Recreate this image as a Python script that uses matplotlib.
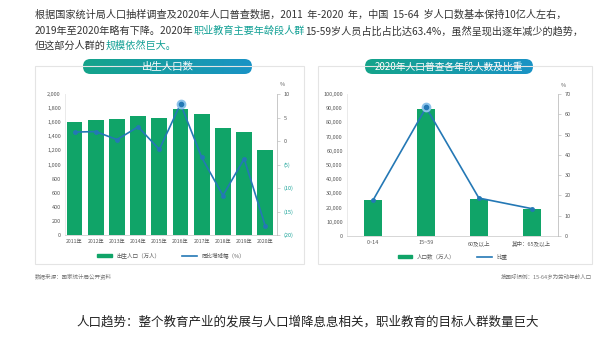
import numpy as np
import matplotlib.pyplot as plt
from matplotlib.patches import FancyBboxPatch, Rectangle
from matplotlib.lines import Line2D
from matplotlib.colors import LinearSegmentedColormap
from matplotlib.ticker import FuncFormatter

plt.rcParams['font.family'] = ['Noto Sans CJK SC', 'DejaVu Sans']

# data - left chart: births 2011-2020
years = ['2011年', '2012年', '2013年', '2014年', '2015年', '2016年', '2017年', '2018年', '2019年', '2020年']
births = [1604, 1635, 1640, 1687, 1655, 1786, 1723, 1523, 1465, 1200]
births_yoy = [1.9, 2.0, 0.3, 3.0, -1.8, 7.9, -3.5, -11.6, -3.8, -18.1]

# data - right chart: 2020 census age groups
age_groups = ['0~14', '15~59', '60及以上', '其中：65及以上']
age_pop = [25338, 89438, 26402, 19064]
age_share = [17.95, 63.35, 18.70, 13.50]

W, H = 611, 347
GREEN = '#10a468'
BLUE = '#2478b5'
TEAL = '#12a095'
GREY = '#595959'
TICK = 4.0

fig = plt.figure(figsize=(W / 100, H / 100), dpi=100)


def px_axes(x0, y0, x1, y1, **kw):
    # pixel box (top-left origin) -> fig axes
    return fig.add_axes([x0 / W, 1 - y1 / H, (x1 - x0) / W, (y1 - y0) / H], **kw)


def panel(x0, y0, x1, y1):
    fig.patches.append(Rectangle((x0 / W, 1 - y1 / H), (x1 - x0) / W, (y1 - y0) / H,
                                 transform=fig.transFigure, fill=False,
                                 edgecolor='#e4e4e4', lw=0.8))


def pill(x0, y0, x1, y1, text, size):
    ax = px_axes(x0, y0, x1, y1)
    ax.set_axis_off()
    grad = np.linspace(0, 1, 256).reshape(1, -1)
    cmap = LinearSegmentedColormap.from_list('pill', ['#14a48a', '#1a93c6'])
    im = ax.imshow(grad, aspect='auto', cmap=cmap, extent=[0, 1, 0, 1])
    ax.set_xlim(0, 1)
    ax.set_ylim(0, 1)
    r = (y1 - y0) / 2
    box = FancyBboxPatch((0, 0), 1, 1,
                         boxstyle=f'round,pad=0,rounding_size={r / (x1 - x0)}',
                         mutation_aspect=(x1 - x0) / (y1 - y0),
                         transform=ax.transAxes, facecolor='none', edgecolor='none')
    ax.add_patch(box)
    im.set_clip_path(box)
    ax.text(0.5, 0.48, text, color='white', fontsize=size, ha='center', va='center',
            transform=ax.transAxes)


def rich_line(x, y, parts, size):
    # draw text pieces one after another, each with its own colour
    renderer = fig.canvas.get_renderer()
    cur = x / W
    for s, c in parts:
        t = fig.text(cur, 1 - y / H, s, color=c, fontsize=size, va='center', ha='left')
        bb = t.get_window_extent(renderer=renderer)
        cur += bb.width / fig.bbox.width


def style_axes(ax, ax2):
    for a in (ax, ax2):
        for s in a.spines.values():
            s.set_visible(False)
        a.tick_params(labelsize=TICK, colors=GREY, length=0, pad=3)
    ax.spines['bottom'].set_visible(True)
    ax.spines['bottom'].set_color('#d0d0d0')
    ax.spines['bottom'].set_linewidth(0.6)
    ax.spines['left'].set_visible(True)
    ax.spines['left'].set_color('#e6e6e6')
    ax.spines['left'].set_linewidth(0.6)
    ax2.spines['right'].set_visible(True)
    ax2.spines['right'].set_color('#bfbfbf')
    ax2.spines['right'].set_linewidth(0.6)
    ax2.tick_params(axis='y', length=2, width=0.5, color='#bfbfbf')
    ax.set_facecolor('none')


# header text
rich_line(35, 15, [('根据国家统计局人口抽样调查及2020年人口普查数据，2011  年-2020  年，中国  15-64  岁人口数基本保持10亿人左右，', '#333333')], 7.3)
rich_line(35, 31, [('2019年至2020年略有下降。2020年', '#333333'), ('职业教育主要年龄段人群', TEAL),
                   ('15-59岁人员占比占比达63.4%，虽然呈现出逐年减少的趋势，', '#333333')], 7.3)
rich_line(35, 46, [('但这部分人群的', '#333333'), ('规模依然巨大。', TEAL)], 7.3)

# panels
panel(35, 66, 304, 264)
panel(318, 66, 592, 264)

# ---- left chart ----
ax = px_axes(65, 94, 277, 235)
ax2 = ax.twinx()
x = np.arange(len(years))
ax.bar(x, births, width=0.74, color=GREEN, zorder=2)
ax.set_ylim(0, 2000)
ax.set_yticks(np.arange(0, 2001, 200))
ax.yaxis.set_major_formatter(FuncFormatter(lambda v, p: f'{int(v):,}'))
ax.set_xlim(-0.45, 9.55)
ax.set_xticks(x)
ax.set_xticklabels(years)
ax2.plot(x, births_yoy, color=BLUE, lw=1.2, marker='o', ms=2.5, zorder=3)
i = int(np.argmax(births_yoy))
ax2.plot(x[i], births_yoy[i], 'o', ms=6, color='#8cc3ea', zorder=4)
ax2.plot(x[i], births_yoy[i], 'o', ms=3, color=BLUE, zorder=5)
ax2.set_ylim(-20, 10)
ax2.set_yticks(np.arange(-20, 11, 5))
ax2.set_yticklabels([f'({-v})' if v < 0 else str(v) for v in range(-20, 11, 5)])
style_axes(ax, ax2)
ax.tick_params(axis='x', labelsize=3.7)
for lab, v in zip(ax2.get_yticklabels(), range(-20, 11, 5)):
    if v < 0:
        lab.set_color(TEAL)
ax.text(1.015, 1.06, '%', transform=ax.transAxes, fontsize=TICK, color=GREY, ha='left')
handles = [Rectangle((0, 0), 1, 1, color=GREEN), Line2D([], [], color=BLUE, lw=1.2)]
ax.legend(handles, ['出生人口（万人）', '同比增降幅（%）'], loc='upper center',
          bbox_to_anchor=(0.5, -0.09), ncol=2, frameon=False, fontsize=TICK,
          handlelength=2.6, handleheight=0.6, columnspacing=4, labelcolor=GREY)

# ---- right chart ----
bx = px_axes(347, 94, 558, 236)
bx2 = bx.twinx()
x = np.arange(len(age_groups))
bx.bar(x, age_pop, width=0.34, color=GREEN, zorder=2)
bx.set_ylim(0, 100000)
bx.set_yticks(np.arange(0, 100001, 10000))
bx.yaxis.set_major_formatter(FuncFormatter(lambda v, p: f'{int(v):,}'))
bx.set_xlim(-0.5, 3.5)
bx.set_xticks(x)
bx.set_xticklabels(age_groups)
bx2.plot(x, age_share, color=BLUE, lw=1.2, marker='o', ms=2.5, zorder=3)
i = int(np.argmax(age_share))
bx2.plot(x[i], age_share[i], 'o', ms=6, color='#8cc3ea', zorder=4)
bx2.plot(x[i], age_share[i], 'o', ms=3, color=BLUE, zorder=5)
bx2.set_ylim(0, 70)
bx2.set_yticks(np.arange(0, 71, 10))
style_axes(bx, bx2)
bx.text(1.015, 1.05, '%', transform=bx.transAxes, fontsize=TICK, color=GREY, ha='left')
bx.legend(handles, ['人口数（万人）', '比重'], loc='upper center',
          bbox_to_anchor=(0.5, -0.09), ncol=2, frameon=False, fontsize=TICK,
          handlelength=2.6, handleheight=0.6, columnspacing=4, labelcolor=GREY)

# titles
pill(83, 59, 252, 74, '出生人口数', 7.5)
pill(365, 59, 533, 74, '2020年人口普查各年段人数及比重', 7)

# footnotes + caption
fig.text(35 / W, 1 - 277 / H, '数据来源：国家统计局公开资料', fontsize=TICK, color='#777777', va='center')
fig.text(592 / W, 1 - 277 / H, '按国际惯例：15-64岁为劳动年龄人口', fontsize=TICK, color='#777777',
         va='center', ha='right')
fig.text(308 / W, 1 - 322 / H, '人口趋势：整个教育产业的发展与人口增降息息相关，职业教育的目标人群数量巨大',
         fontsize=9, color='#222222', ha='center', va='center')

fig.savefig('out.png', dpi=100)
